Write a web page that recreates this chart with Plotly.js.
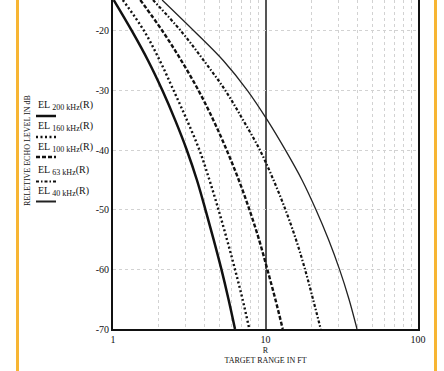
<!DOCTYPE html>
<html>
<head>
<meta charset="utf-8">
<script src="https://cdn.plot.ly/plotly-3.0.1.min.js"></script>
<style>
html,body{margin:0;padding:0;background:#fff;}
#wrap{position:relative;width:444px;height:371px;}
#chart{width:444px;height:371px;}
.edge{position:absolute;top:0;width:2.5px;height:371px;background:#F7B533;pointer-events:none;}
</style>
</head>
<body>
<div id="wrap">
<div id="chart"></div>
<div class="edge" style="left:16px"></div>
<div class="edge" style="left:434px"></div>
</div>
<script>
// ---- data ----
const EL_LEVELS = [-14.8, -20, -25, -30, -35, -40, -45, -50, -55, -60, -65, -70];
const R_200 = [1.01, 1.33, 1.70, 2.11, 2.56, 3.05, 3.55, 4.04, 4.57, 5.14, 5.72, 6.31];
const R_160 = [1.16, 1.60, 2.03, 2.50, 3.06, 3.69, 4.29, 4.92, 5.59, 6.31, 7.07, 7.83];
const R_100 = [1.51, 2.11, 2.81, 3.64, 4.56, 5.57, 6.68, 7.85, 9.07, 10.28, 11.60, 12.97];
const R_63  = [1.83, 2.79, 3.95, 5.46, 7.15, 9.20, 11.28, 13.52, 15.85, 18.16, 20.49, 23.01];
const R_40  = [2.10, 3.40, 5.30, 7.62, 10.31, 13.52, 17.35, 21.43, 25.89, 30.57, 35.28, 39.81];

const SERIES_FREQ = ['200 kHz', '160 kHz', '100 kHz', '63 kHz', '40 kHz'];
const Y_TICKS = [-20, -30, -40, -50, -60, -70];
const Y_TICK_TEXT = ['-20', '-30', '-40', '-50', '-60', '-70'];
const X_TICKS = [1, 10, 100];
const X_TICK_TEXT = ['1', '10', '100'];
const X_MINOR = [2,3,4,5,6,7,8,9,20,30,40,50,60,70,80,90];

// ---- styling ----
const FONT = '"Liberation Serif", "Times New Roman", serif';
const styles = [
  {color:'#111', width:2.5, dash:'solid'},
  {color:'#111', width:2.4, dash:'2px,2.5px'},
  {color:'#111', width:2.4, dash:'4px,2px'},
  {color:'#111', width:2.2, dash:'3px,2px,1.5px,2px'},
  {color:'#222', width:1.3, dash:'solid'}
];
const seriesR = [R_200, R_160, R_100, R_63, R_40];

const traces = seriesR.map((r, i) => ({
  x: r, y: EL_LEVELS, type:'scatter', mode:'lines', showlegend:false,
  line:{color:styles[i].color, width:styles[i].width, dash:styles[i].dash, shape:'spline', smoothing:1},
  hoverinfo:'skip'
}));

// layout helpers (pixel -> paper)
const PL = 113, PR = 418, PT = 0, PB = 329;
const px = x => (x - PL) / (PR - PL);
const py = y => (PB - y) / (PB - PT);

const legendRows = [
  {t:105, l:116}, {t:126.5, l:137}, {t:148, l:157}, {t:170, l:181.5}, {t:191, l:201.5}
];

const annotations = SERIES_FREQ.map((f, i) => ({
  xref:'paper', yref:'paper', x:px(36), y:py(legendRows[i].t), xanchor:'left', yanchor:'middle',
  text:'EL <sub><span style="font-size:8px">' + f + '</span></sub>(R)', showarrow:false,
  font:{family:FONT, size:10, color:'#111'}
}));
annotations.push({
  xref:'paper', yref:'paper', x:px(27), y:py(151), xanchor:'center', yanchor:'middle',
  text:'RELETIVE ECHO LEVEL IN dB', textangle:-90, showarrow:false,
  font:{family:FONT, size:8, color:'#111'}
});

const shapes = styles.map((st, i) => ({
  type:'line', xref:'paper', yref:'paper', x0:px(36), x1:px(56), y0:py(legendRows[i].l), y1:py(legendRows[i].l),
  line:{color:st.color, width:i===4 ? 2 : st.width, dash:st.dash}
}));

const layout = {
  width:444, height:371,
  margin:{l:PL, r:444-PR, t:PT, b:371-PB, pad:0},
  paper_bgcolor:'#fff', plot_bgcolor:'#fff',
  font:{family:FONT, size:10, color:'#111'},
  xaxis:{
    type:'log', range:[0, 2], tickmode:'array', tickvals:X_TICKS, ticktext:X_TICK_TEXT,
    showgrid:true, gridcolor:'#555', gridwidth:2, zeroline:false,
    showline:true, linecolor:'#111', linewidth:2, ticks:'',
    tickfont:{family:FONT, size:10, color:'#111'},
    minor:{tickmode:'array', tickvals:X_MINOR, showgrid:true, gridcolor:'#d2d2d2', griddash:'dot', gridwidth:1, ticks:''},
    title:{text:'R<br>TARGET RANGE IN FT', font:{family:FONT, size:8, color:'#111'}, standoff:3},
    automargin:false
  },
  yaxis:{
    range:[-70, -14.8], tickmode:'array', tickvals:Y_TICKS, ticktext:Y_TICK_TEXT,
    showgrid:true, gridcolor:'#d2d2d2', griddash:'dot', gridwidth:1, zeroline:false,
    showline:true, mirror:true, linecolor:'#111', linewidth:2, ticks:'',
    tickfont:{family:FONT, size:10, color:'#111'}, automargin:false
  },
  annotations:annotations,
  shapes:shapes,
  showlegend:false
};

Plotly.newPlot('chart', traces, layout, {staticPlot:true, displayModeBar:false});
</script>
</body>
</html>
